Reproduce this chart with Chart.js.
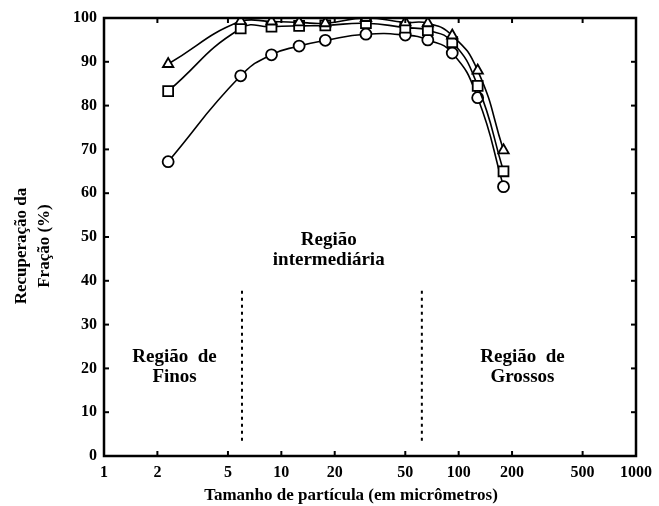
<!DOCTYPE html>
<html><head><meta charset="utf-8">
<script src="https://cdn.jsdelivr.net/npm/chart.js@4/dist/chart.umd.min.js"></script>
<style>html,body{margin:0;padding:0;background:#fff}#wrap{width:659px;height:506px}</style>
</head><body><div id="wrap"><canvas id="c" width="659" height="506"></canvas></div>
<script>
const sizes = [2.3, 5.9, 8.8, 12.6, 17.7, 30, 50, 67, 92, 128, 179];
const triangleSeries = [89.5, 99.3, 99.2, 99.0, 98.8, 100.0, 99.0, 98.8, 96.0, 88.0, 69.8];
const squareSeries = [83.3, 97.6, 98.0, 98.2, 98.3, 98.8, 97.8, 97.2, 94.5, 84.5, 65.0];
const circleSeries = [67.2, 86.8, 91.6, 93.6, 94.9, 96.3, 96.1, 95.0, 92.0, 81.8, 61.5];
const xTicks = [1, 2, 5, 10, 20, 50, 100, 200, 500, 1000];
const yTicks = [0, 10, 20, 30, 40, 50, 60, 70, 80, 90, 100];
const boundaries = [6, 62];
const boundaryRange = [3.5, 38];
const yTitleLines = ['Recuperação da', 'Fração (%)'];
const xTitle = 'Tamanho de partícula (em micrômetros)';
const regionLabels = [
  {x: 2.5, y: 22.6, lines: ['Região  de', 'Finos']},
  {x: 18.5, y: 49.3, lines: ['Região', 'intermediária']},
  {x: 229, y: 22.6, lines: ['Região  de', 'Grossos']}
];

const FONT = '"Liberation Serif", "DejaVu Serif", serif';
const pts = (vals) => sizes.map((s, i) => ({x: s, y: vals[i]}));
const mk = (label, vals, style, r) => ({
  label, data: pts(vals), borderColor: '#000', borderWidth: 1.6,
  backgroundColor: '#fff', pointBackgroundColor: '#fff', pointBorderColor: '#000',
  pointBorderWidth: 1.8, pointStyle: style, pointRadius: r, pointHoverRadius: r,
  tension: 0.5, fill: false
});
const bLine = (v) => ({
  label: 'b' + v, data: [{x: v, y: boundaryRange[0]}, {x: v, y: boundaryRange[1]}],
  borderColor: '#000', borderWidth: 2, borderDash: [3, 4], pointRadius: 0, fill: false
});

const framePlugin = {
  id: 'frame',
  afterDatasetsDraw(chart) {
    const {ctx, chartArea: a, scales: {x, y}} = chart;
    ctx.save();
    ctx.strokeStyle = '#000';
    ctx.lineWidth = 2.5;
    ctx.strokeRect(a.left, a.top, a.right - a.left, a.bottom - a.top);
    ctx.lineWidth = 2;
    const L = 5;
    xTicks.forEach(t => {
      const px = x.getPixelForValue(t);
      ctx.beginPath(); ctx.moveTo(px, a.bottom); ctx.lineTo(px, a.bottom - L); ctx.stroke();
      ctx.beginPath(); ctx.moveTo(px, a.top); ctx.lineTo(px, a.top + L); ctx.stroke();
    });
    yTicks.forEach(t => {
      const py = y.getPixelForValue(t);
      ctx.beginPath(); ctx.moveTo(a.left, py); ctx.lineTo(a.left + L, py); ctx.stroke();
      ctx.beginPath(); ctx.moveTo(a.right, py); ctx.lineTo(a.right - L, py); ctx.stroke();
    });
    ctx.fillStyle = '#000';
    ctx.font = 'bold 19px ' + FONT;
    ctx.textAlign = 'center';
    ctx.textBaseline = 'middle';
    regionLabels.forEach(r => {
      const px = x.getPixelForValue(r.x);
      const py = y.getPixelForValue(r.y);
      r.lines.forEach((ln, i) => ctx.fillText(ln, px, py + i * 20));
    });
    // x-axis title
    ctx.font = 'bold 17px ' + FONT;
    ctx.fillText(xTitle, 351, 496);
    // y-axis title (two rotated lines)
    ctx.translate(0, 246);
    ctx.rotate(-Math.PI / 2);
    yTitleLines.forEach((ln, i) => ctx.fillText(ln, 0, 22 + i * 23));
    ctx.restore();
  }
};

new Chart(document.getElementById('c'), {
  type: 'line',
  data: {
    datasets: [
      bLine(boundaries[0]), bLine(boundaries[1]),
      mk('Triângulos', triangleSeries, 'triangle', 6),
      mk('Quadrados', squareSeries, 'rect', 7),
      mk('Círculos', circleSeries, 'circle', 5.5)
    ]
  },
  options: {
    responsive: false, animation: false,
    layout: {padding: {top: 18, right: 21, left: 0, bottom: 0}},
    plugins: {legend: {display: false}, tooltip: {enabled: false}},
    scales: {
      x: {
        type: 'logarithmic', min: 1, max: 1000,
        afterBuildTicks(s) { s.ticks = xTicks.map(v => ({value: v})); },
        afterFit(s) { s.height = 50; },
        grid: {display: false, drawTicks: false},
        border: {display: false},
        ticks: {
          autoSkip: false, maxRotation: 0, padding: 7, color: '#000',
          font: {family: FONT, size: 16, weight: 'bold'},
          callback: (v) => String(v)
        },
        title: {display: false, text: xTitle}
      },
      y: {
        min: 0, max: 100,
        afterBuildTicks(s) { s.ticks = yTicks.map(v => ({value: v})); },
        afterFit(s) { s.width = 104; },
        grid: {display: false, drawTicks: false},
        border: {display: false},
        ticks: {padding: 7, color: '#000', font: {family: FONT, size: 16, weight: 'bold'}},
        title: {display: false, text: yTitleLines}
      }
    }
  },
  plugins: [framePlugin]
});
</script>
</body></html>
